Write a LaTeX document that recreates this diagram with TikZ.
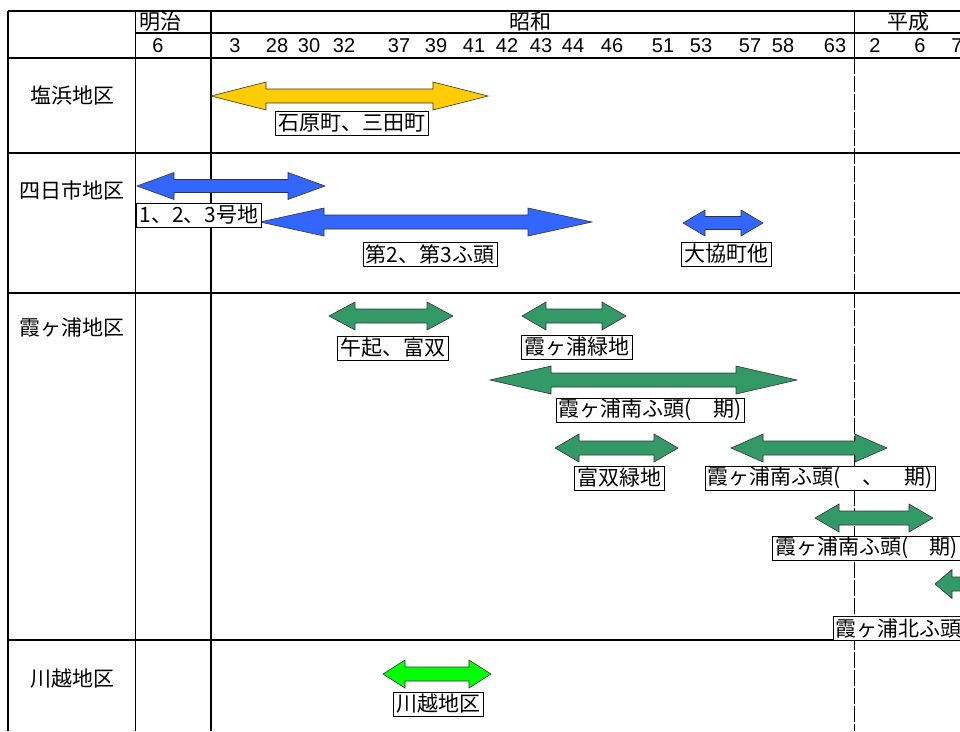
\documentclass[tikz,border=0pt]{standalone}
\usepackage{fontspec}
\setmainfont{Liberation Sans}
\newfontfamily\jp{Noto Sans CJK JP}
\definecolor{cyellow}{HTML}{FFCC00}
\definecolor{cblue}{HTML}{3366FF}
\definecolor{cgreen}{HTML}{339966}
\definecolor{clime}{HTML}{00FF00}
\newcommand\blockarrow[7]{%
  \filldraw[arrowbody, fill=#7] (#1,#3) -- ({#1+#4},{#3-#5}) -- ({#1+#4},{#3-#6}) -- ({#2-#4},{#3-#6}) -- ({#2-#4},{#3-#5}) -- (#2,#3) -- ({#2-#4},{#3+#5}) -- ({#2-#4},{#3+#6}) -- ({#1+#4},{#3+#6}) -- ({#1+#4},{#3+#5}) -- cycle;}
\begin{document}
\begin{tikzpicture}[x=1pt,y=-1pt,
  arrowbody/.style={draw=black!80, line width=0.6pt, line join=miter},
  lbl/.style={draw=black, line width=0.6pt, fill=white, inner xsep=3pt, inner ysep=0pt, minimum height=24pt, font=\jp\fontsize{21}{21}\selectfont},
  era/.style={font=\jp\fontsize{21}{21}\selectfont},
  area/.style={font=\jp\fontsize{21}{21}\selectfont},
  num/.style={font=\fontsize{20}{20}\selectfont, inner sep=0pt},
  grid/.style={line width=1.2pt}]
\useasboundingbox (0,0) rectangle (960,731);
\clip (0,0) rectangle (960,731);
\fill[white] (0,0) rectangle (960,731);
% grid
\draw[grid] (8,11) -- (960,11);
\draw[grid] (135,33) -- (960,33);
\draw[line width=2.6pt] (8,58) -- (960,58);
\draw[grid] (8,11) -- (8,731);
\draw[line width=1pt] (135,11) -- (135,731);
\draw[line width=2pt] (211,11) -- (211,731);
\draw[line width=1pt] (854,11) -- (854,58);
\draw[line width=0.8pt, dash pattern=on 16pt off 2pt] (854,58) -- (854,731);
\draw[grid] (8,153) -- (960,153);
\draw[grid] (8,293) -- (960,293);
\draw[grid] (8,640) -- (960,640);
% header
\node[era] (meiji) at (160,22) {明治};
\node[era] (showa) at (530,22) {昭和};
\node[era] (heisei) at (908,22) {平成};
\foreach \x/\t [count=\i] in {158/6, 235/3, 277/28, 309/30, 344/32, 399/37, 436/39, 474/41, 507/42, 541/43, 573/44, 612/46, 663/51, 701/53, 750/57, 783/58, 835/63, 875/2, 920/6, 957/7}
  \node[num] (n\i) at (\x,46) {\t};
% areas
\node[area] (shiohama) at (72,96) {塩浜地区};
\node[area] (yokkaichi) at (72,190) {四日市地区};
\node[area] (kasumi) at (72,328) {霞ヶ浦地区};
\node[area] (kawagoe) at (72,679) {川越地区};
% arrows
\blockarrow{211}{488}{96}{55}{14}{7}{cyellow}
\blockarrow{137}{325}{186}{37}{13.5}{6.5}{cblue}
\blockarrow{260}{592}{222}{64}{14}{7}{cblue}
\blockarrow{683}{763}{223}{22}{13}{6.5}{cblue}
\blockarrow{329}{453}{316}{26}{14}{7}{cgreen}
\blockarrow{522}{626}{316}{24}{14}{7}{cgreen}
\blockarrow{490}{797}{380}{61}{14}{7}{cgreen}
\blockarrow{555}{678}{448}{24}{14}{7}{cgreen}
\blockarrow{731}{887}{448}{32}{14}{7}{cgreen}
\blockarrow{815}{933}{518}{24}{14}{7}{cgreen}
\blockarrow{935}{1100}{584}{17}{14.5}{7}{cgreen}
\blockarrow{383}{491}{674}{22}{14}{7}{clime}
% labels
\node[lbl] (l1) at (352,123) {石原町、三田町};
\node[lbl] (l2) at (199,215) {1、2、3号地};
\node[lbl] (l3) at (430,254) {第2、第3ふ頭};
\node[lbl] (l4) at (726,254) {大協町他};
\node[lbl] (l5) at (393,348) {午起、富双};
\node[lbl] (l6) at (577,347) {霞ヶ浦緑地};
\node[lbl] (l7) at (650,410) {霞ヶ浦南ふ頭(　期)};
\node[lbl] (l8) at (619,478) {富双緑地};
\node[lbl] (l9) at (820,478) {霞ヶ浦南ふ頭(　、　期)};
\node[lbl, anchor=west] (l10) at (772,548) {霞ヶ浦南ふ頭(　期)};
\node[lbl, anchor=west, inner xsep=2pt] (l11) at (833,628) {霞ヶ浦北ふ頭\hspace{6pt}};
\node[lbl] (l12) at (438,704) {川越地区};
\end{tikzpicture}
\end{document}
